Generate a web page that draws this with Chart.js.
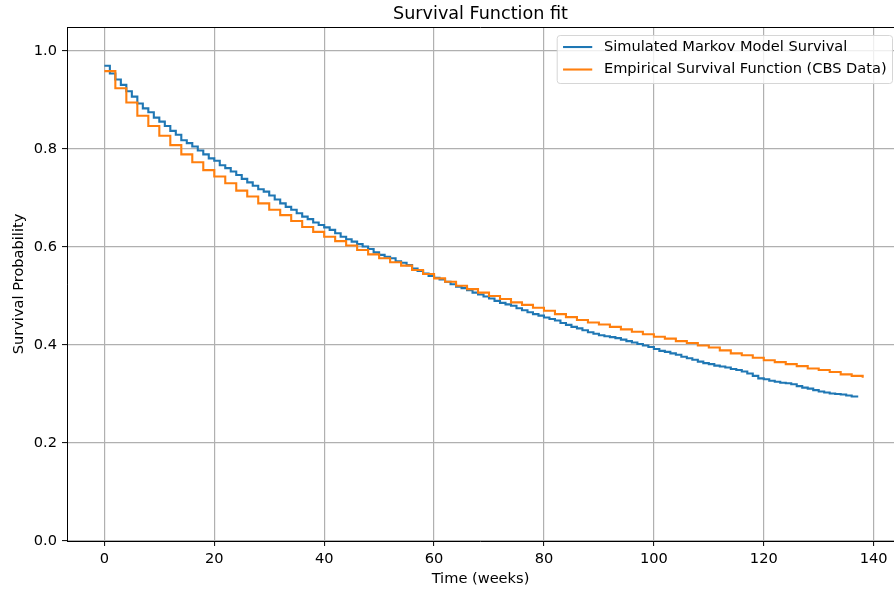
<!DOCTYPE html>
<html>
<head>
<meta charset="utf-8">
<title>Survival Function fit</title>
<script src="https://cdn.jsdelivr.net/npm/chart.js@4.4.1/dist/chart.umd.min.js"></script>
<style>
  html, body { margin: 0; padding: 0; background: #fff; }
  #chartBox { position: relative; width: 894px; height: 590px; }
</style>
</head>
<body>
<div id="chartBox"><canvas id="survivalChart"></canvas></div>
<script>
/* chart data */

// simulated Markov model survival, one value per week (week 0 .. 137)
var simSurvival = [
  0.970, 0.954, 0.942, 0.931, 0.918, 0.907, 0.893, 0.883, 0.875, 0.864,
  0.856, 0.847, 0.837, 0.829, 0.818, 0.812, 0.805, 0.797, 0.789, 0.781,
  0.776, 0.767, 0.761, 0.754, 0.747, 0.739, 0.732, 0.725, 0.718, 0.713,
  0.705, 0.697, 0.689, 0.682, 0.676, 0.669, 0.662, 0.657, 0.650, 0.645,
  0.640, 0.635, 0.628, 0.621, 0.616, 0.611, 0.606, 0.601, 0.596, 0.589,
  0.584, 0.580, 0.577, 0.571, 0.568, 0.563, 0.556, 0.551, 0.546, 0.541,
  0.537, 0.534, 0.529, 0.524, 0.519, 0.516, 0.512, 0.507, 0.503, 0.499,
  0.495, 0.490, 0.486, 0.483, 0.480, 0.475, 0.471, 0.467, 0.463, 0.460,
  0.456, 0.453, 0.450, 0.445, 0.441, 0.437, 0.434, 0.430, 0.426, 0.423,
  0.420, 0.418, 0.416, 0.414, 0.411, 0.408, 0.405, 0.402, 0.399, 0.396,
  0.392, 0.388, 0.386, 0.383, 0.380, 0.376, 0.373, 0.370, 0.366, 0.363,
  0.361, 0.358, 0.356, 0.354, 0.351, 0.349, 0.346, 0.342, 0.337, 0.332,
  0.330, 0.327, 0.325, 0.323, 0.322, 0.320, 0.316, 0.313, 0.311, 0.308,
  0.305, 0.303, 0.301, 0.300, 0.299, 0.297, 0.295, 0.293
];

// empirical survival function (CBS data), one value every 2 weeks (week 0 .. 138)
var cbsSurvival = [
  0.959, 0.924, 0.895, 0.868, 0.847, 0.827, 0.808, 0.789, 0.773, 0.757,
  0.744, 0.730, 0.715, 0.703, 0.689, 0.676, 0.665, 0.653, 0.641, 0.631,
  0.621, 0.612, 0.603, 0.594, 0.585, 0.577, 0.569, 0.562, 0.553, 0.545,
  0.536, 0.529, 0.521, 0.514, 0.507, 0.500, 0.494, 0.487, 0.482, 0.476,
  0.470, 0.463, 0.457, 0.451, 0.446, 0.442, 0.437, 0.432, 0.427, 0.422,
  0.417, 0.413, 0.408, 0.404, 0.399, 0.395, 0.389, 0.383, 0.379, 0.374,
  0.369, 0.365, 0.361, 0.357, 0.352, 0.349, 0.345, 0.340, 0.337, 0.333
];
var cbsWeekStep = 2;

var xTickValues = [0, 20, 40, 60, 80, 100, 120, 140];
var yTickValues = [0.0, 0.2, 0.4, 0.6, 0.8, 1.0];

var seriesLabels = ['Simulated Markov Model Survival', 'Empirical Survival Function (CBS Data)'];
var seriesColors = ['#1f77b4', '#ff7f0e'];

var fontFamily = 'DejaVu Sans';
var baseSize = 14.6;

/* build the point lists */
var simPoints = simSurvival.map(function(v, i) {
  return { x: i, y: v };
});
var cbsPoints = cbsSurvival.map(function(v, i) {
  return { x: i * cbsWeekStep, y: v };
});

/* top spine and the legend box inside the axes */
var axesFrame = {
  id: 'axesFrame',
  afterDraw: function(chart) {
    var ctx = chart.ctx;
    var area = chart.chartArea;
    ctx.save();

    ctx.strokeStyle = '#000';
    ctx.lineWidth = 1;
    ctx.beginPath();
    ctx.moveTo(area.left, Math.round(area.top) + 0.5);
    ctx.lineTo(area.right, Math.round(area.top) + 0.5);
    ctx.stroke();

    ctx.font = baseSize + 'px "' + fontFamily + '"';
    var textWidth = 0;
    chart.data.datasets.forEach(function(ds) {
      textWidth = Math.max(textWidth, ctx.measureText(ds.label).width);
    });
    var pad = 0.4 * baseSize;
    var handle = 2 * baseSize;
    var gap = 0.8 * baseSize;
    var w = pad + handle + gap + textWidth + pad;
    var h = 48;
    var right = area.right - 1.5;
    var left = right - w;
    var top = area.top + 8.5;
    var r = 3;

    ctx.beginPath();
    ctx.moveTo(left + r, top);
    ctx.lineTo(left + w - r, top);
    ctx.arcTo(left + w, top, left + w, top + r, r);
    ctx.lineTo(left + w, top + h - r);
    ctx.arcTo(left + w, top + h, left + w - r, top + h, r);
    ctx.lineTo(left + r, top + h);
    ctx.arcTo(left, top + h, left, top + h - r, r);
    ctx.lineTo(left, top + r);
    ctx.arcTo(left, top, left + r, top, r);
    ctx.closePath();
    ctx.fillStyle = 'rgba(255,255,255,0.8)';
    ctx.fill();
    ctx.strokeStyle = '#d6d6d6';
    ctx.lineWidth = 1;
    ctx.stroke();

    var rowY = [top + 11.5, top + 34];
    chart.data.datasets.forEach(function(ds, i) {
      ctx.strokeStyle = ds.borderColor;
      ctx.lineWidth = ds.borderWidth;
      ctx.beginPath();
      ctx.moveTo(left + pad, rowY[i]);
      ctx.lineTo(left + pad + handle, rowY[i]);
      ctx.stroke();

      ctx.fillStyle = '#000';
      ctx.textAlign = 'left';
      ctx.textBaseline = 'middle';
      ctx.fillText(ds.label, left + pad + handle + gap, rowY[i]);
    });

    ctx.restore();
  }
};

var ctx = document.getElementById('survivalChart').getContext('2d');
var survivalChart = new Chart(ctx, {
  type: 'line',
  data: {
    datasets: [
      {
        label: seriesLabels[0],
        data: simPoints,
        borderColor: seriesColors[0],
        backgroundColor: seriesColors[0],
        borderWidth: 2.1,
        pointRadius: 0,
        stepped: true,
        fill: false,
        order: 1
      },
      {
        label: seriesLabels[1],
        data: cbsPoints,
        borderColor: seriesColors[1],
        backgroundColor: seriesColors[1],
        borderWidth: 2.1,
        pointRadius: 0,
        stepped: true,
        fill: false,
        order: 0
      }
    ]
  },
  options: {
    responsive: true,
    maintainAspectRatio: false,
    devicePixelRatio: 1,
    animation: false,
    layout: { padding: { left: 0, right: 0, top: 0, bottom: 0 } },
    plugins: {
      legend: { display: false },
      tooltip: { enabled: false },
      title: {
        display: true,
        text: 'Survival Function fit',
        fullSize: false,
        color: '#000',
        font: { family: fontFamily, size: 17.6, weight: 'normal' },
        padding: { top: 3.4, bottom: 2.5 }
      }
    },
    scales: {
      x: {
        type: 'linear',
        min: -6.8,
        max: 143.7,
        afterBuildTicks: function(scale) {
          scale.ticks = xTickValues.map(function(v) { return { value: v }; });
        },
        afterFit: function(scale) {
          scale.height = 49;
        },
        ticks: {
          color: '#000',
          padding: 4,
          maxRotation: 0,
          font: { family: fontFamily, size: baseSize },
          callback: function(v) { return String(v); }
        },
        grid: {
          color: '#b0b0b0',
          lineWidth: 1.2,
          drawTicks: true,
          tickLength: 5,
          tickColor: '#000',
          tickWidth: 1
        },
        border: { display: true, color: '#000', width: 1 },
        title: {
          display: true,
          text: 'Time (weeks)',
          color: '#000',
          font: { family: fontFamily, size: baseSize },
          padding: { top: 0, bottom: 1.8 }
        }
      },
      y: {
        type: 'linear',
        min: 0,
        max: 1.049,
        afterBuildTicks: function(scale) {
          scale.ticks = yTickValues.map(function(v) { return { value: v }; });
        },
        afterFit: function(scale) {
          scale.width = 67;
        },
        ticks: {
          color: '#000',
          padding: 5,
          font: { family: fontFamily, size: baseSize },
          callback: function(v) { return Number(v).toFixed(1); }
        },
        grid: {
          color: '#b0b0b0',
          lineWidth: 1.2,
          drawTicks: true,
          tickLength: 5,
          tickColor: '#000',
          tickWidth: 1
        },
        border: { display: true, color: '#000', width: 1 },
        title: {
          display: true,
          text: 'Survival Probability',
          color: '#000',
          font: { family: fontFamily, size: baseSize },
          padding: { top: 10.8, bottom: 0 }
        }
      }
    }
  },
  plugins: [axesFrame]
});
</script>
</body>
</html>
